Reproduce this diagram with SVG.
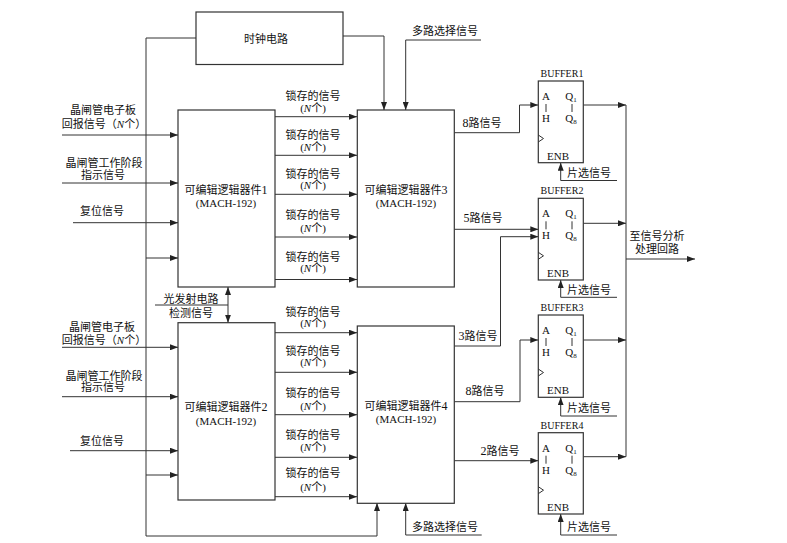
<svg xmlns="http://www.w3.org/2000/svg" width="787" height="543" viewBox="0 0 787 543">
<defs>
<style>
.bg{fill:#fff}
.box{fill:#fff;stroke:#333;stroke-width:1.2}
.ln{fill:none;stroke:#333;stroke-width:1}
.ar{fill:none;stroke:#333;stroke-width:1;marker-end:url(#arr)}
.t{font-family:"Liberation Serif","Noto Sans CJK SC",serif;font-size:11px;fill:#111;text-anchor:middle}
.s{font-family:"Liberation Serif","Noto Sans CJK SC",serif;font-size:10px;fill:#111;text-anchor:middle}
.p{font-family:"Liberation Serif",serif;font-size:11px;fill:#111;text-anchor:middle}
.i{font-style:italic}
</style>
<marker id="arr" viewBox="0 0 8 6" refX="8" refY="3" markerWidth="8" markerHeight="6" orient="auto-start-reverse" markerUnits="userSpaceOnUse"><path d="M0,0 L8,3 L0,6 z" fill="#222"/></marker>
</defs>
<rect class="bg" x="0" y="0" width="787" height="543"/>

<g id="connectors">
<polyline class="ln" points="196,38 146,38 146,536 377,536"/>
<line class="ar" x1="377" y1="536" x2="377" y2="503"/>
<line class="ar" x1="146" y1="258" x2="178" y2="258"/>
<line class="ar" x1="146" y1="475" x2="178" y2="475"/>
<line class="ar" x1="62" y1="135" x2="178" y2="135"/>
<line class="ar" x1="62" y1="183" x2="178" y2="183"/>
<line class="ar" x1="73" y1="222.7" x2="178" y2="222.7"/>
<line class="ar" x1="62" y1="347.3" x2="178" y2="347.3"/>
<line class="ar" x1="62" y1="396.7" x2="178" y2="396.7"/>
<line class="ar" x1="70" y1="450.7" x2="178" y2="450.7"/>
<polyline class="ar" points="343,36 384,36 384,110"/>
<polyline class="ar" points="481,40 405.7,40 405.7,110"/>
<polyline class="ar" points="481.7,535 405.7,535 405.7,503"/>
<line class="ar" x1="275" y1="116.7" x2="357" y2="116.7"/>
<line class="ar" x1="275" y1="155.3" x2="357" y2="155.3"/>
<line class="ar" x1="275" y1="194.3" x2="357" y2="194.3"/>
<line class="ar" x1="275" y1="237" x2="357" y2="237"/>
<line class="ar" x1="275" y1="279.5" x2="357" y2="279.5"/>
<line class="ar" x1="275" y1="332.7" x2="357" y2="332.7"/>
<line class="ar" x1="275" y1="372.3" x2="357" y2="372.3"/>
<line class="ar" x1="275" y1="414.7" x2="357" y2="414.7"/>
<line class="ar" x1="275" y1="457.3" x2="357" y2="457.3"/>
<line class="ar" x1="275" y1="496.7" x2="357" y2="496.7"/>
<line class="ar" x1="228" y1="322.7" x2="228" y2="287" style="marker-start:url(#arr)"/>
<line class="ln" x1="155" y1="305" x2="228" y2="305"/>
<polyline class="ar" points="454.3,132.7 519.5,132.7 519.5,105 538.3,105"/>
<line class="ar" x1="454.3" y1="229.3" x2="538.3" y2="229.3"/>
<polyline class="ar" points="454.3,346 500.5,346 500.5,236.7 538.3,236.7"/>
<polyline class="ar" points="454.3,401.7 520,401.7 520,340 538.3,340"/>
<line class="ar" x1="454.3" y1="460.7" x2="538.3" y2="460.7"/>
<line class="ar" x1="583.3" y1="105" x2="626" y2="105"/>
<line class="ar" x1="583.3" y1="223.3" x2="626" y2="223.3"/>
<line class="ar" x1="583.3" y1="340" x2="626" y2="340"/>
<line class="ar" x1="583.3" y1="456.7" x2="626" y2="456.7"/>
<line class="ln" x1="626" y1="105" x2="626" y2="456.7"/>
<line class="ar" x1="626" y1="259" x2="695" y2="259"/>
<polyline class="ar" points="617,180.5 560.7,180.5 560.7,162.7"/>
<polyline class="ar" points="617,297.3 560.7,297.3 560.7,280"/>
<polyline class="ar" points="617,416 560.7,416 560.7,397.3"/>
<polyline class="ar" points="617,535 560.7,535 560.7,514"/>
</g>

<g id="clock">
<rect class="box" x="196" y="12" width="147" height="52.5"/>
<text class="t" x="266" y="43">时钟电路</text>
</g>

<g id="device1">
<rect class="box" x="178" y="110" width="97" height="177"/>
<text class="t" x="226" y="194">可编辑逻辑器件<tspan font-size="12">1</tspan></text>
<text class="t" x="226" y="207">(MACH-192)</text>
</g>
<g id="device2">
<rect class="box" x="178" y="322.7" width="97" height="177.3"/>
<text class="t" x="226" y="410.7">可编辑逻辑器件<tspan font-size="12">2</tspan></text>
<text class="t" x="226" y="425">(MACH-192)</text>
</g>
<g id="device3">
<rect class="box" x="357.3" y="110" width="97" height="177"/>
<text class="t" x="406" y="194">可编辑逻辑器件<tspan font-size="12">3</tspan></text>
<text class="t" x="406" y="207">(MACH-192)</text>
</g>
<g id="device4">
<rect class="box" x="357.3" y="326" width="97" height="177.3"/>
<text class="t" x="406" y="410">可编辑逻辑器件<tspan font-size="12">4</tspan></text>
<text class="t" x="406" y="423.3">(MACH-192)</text>
</g>

<g id="input-labels">
<text class="t" x="103" y="114">晶闸管电子板</text>
<text class="t" x="104" y="128">回报信号（<tspan class="i">N</tspan>个）</text>
<text class="t" x="104" y="167">晶闸管工作阶段</text>
<text class="t" x="103" y="179">指示信号</text>
<text class="t" x="102" y="215">复位信号</text>
<text class="t" x="102" y="330.7">晶闸管电子板</text>
<text class="t" x="104" y="344">回报信号（<tspan class="i">N</tspan>个）</text>
<text class="t" x="104" y="379.7">晶闸管工作阶段</text>
<text class="t" x="103" y="391.3">指示信号</text>
<text class="t" x="102" y="445">复位信号</text>
<text class="t" x="191" y="303">光发射电路</text>
<text class="t" x="191" y="317.3">检测信号</text>
</g>

<g id="latch-labels">
<text class="t" x="313" y="100">锁存的信号</text><text class="t" x="313" y="112">(<tspan class="i">N</tspan>个)</text>
<text class="t" x="313" y="139">锁存的信号</text><text class="t" x="313" y="151">(<tspan class="i">N</tspan>个)</text>
<text class="t" x="313" y="178">锁存的信号</text><text class="t" x="313" y="189">(<tspan class="i">N</tspan>个)</text>
<text class="t" x="313" y="219">锁存的信号</text><text class="t" x="313" y="232">(<tspan class="i">N</tspan>个)</text>
<text class="t" x="313" y="261.3">锁存的信号</text><text class="t" x="313" y="272.3">(<tspan class="i">N</tspan>个)</text>
<text class="t" x="313" y="315.7">锁存的信号</text><text class="t" x="313" y="327.3">(<tspan class="i">N</tspan>个)</text>
<text class="t" x="313" y="354.7">锁存的信号</text><text class="t" x="313" y="366.3">(<tspan class="i">N</tspan>个)</text>
<text class="t" x="313" y="397.3">锁存的信号</text><text class="t" x="313" y="409.7">(<tspan class="i">N</tspan>个)</text>
<text class="t" x="313" y="439">锁存的信号</text><text class="t" x="313" y="451.3">(<tspan class="i">N</tspan>个)</text>
<text class="t" x="313" y="477.3">锁存的信号</text><text class="t" x="313" y="490.7">(<tspan class="i">N</tspan>个)</text>
</g>

<g id="signal-labels">
<text class="t" x="445" y="35">多路选择信号</text>
<text class="t" x="445" y="530.7">多路选择信号</text>
<text class="t" x="482" y="127"><tspan font-size="12">8</tspan>路信号</text>
<text class="t" x="483" y="222"><tspan font-size="12">5</tspan>路信号</text>
<text class="t" x="478" y="340"><tspan font-size="12">3</tspan>路信号</text>
<text class="t" x="485" y="395"><tspan font-size="12">8</tspan>路信号</text>
<text class="t" x="500" y="454.7"><tspan font-size="12">2</tspan>路信号</text>
<text class="t" x="657" y="240">至信号分析</text>
<text class="t" x="657" y="253">处理回路</text>
<text class="t" x="589" y="177.3">片选信号</text>
<text class="t" x="589" y="294">片选信号</text>
<text class="t" x="589" y="412.3">片选信号</text>
<text class="t" x="589" y="531.3">片选信号</text>
</g>

<g id="buffer1">
<text class="s" x="562" y="77">BUFFER1</text>
<rect class="box" x="538.3" y="81" width="45" height="81.7"/>
<text class="p" x="546" y="100">A</text><line class="ln" x1="546" y1="104" x2="546" y2="112"/><text class="p" x="546" y="122">H</text>
<text class="p" x="571" y="100">Q<tspan font-size="7" dy="2">1</tspan></text><line class="ln" x1="572" y1="104" x2="572" y2="112"/><text class="p" x="571" y="122">Q<tspan font-size="7" dy="2">8</tspan></text>
<polyline class="ln" points="538.3,135 543.5,138.5 538.3,142"/>
<text class="p" x="558" y="159.5">ENB</text>
</g>
<g id="buffer2">
<text class="s" x="562" y="194.3">BUFFER2</text>
<rect class="box" x="538.3" y="198.3" width="45" height="81.7"/>
<text class="p" x="546" y="217.3">A</text><line class="ln" x1="546" y1="221.3" x2="546" y2="229.3"/><text class="p" x="546" y="239.3">H</text>
<text class="p" x="571" y="217.3">Q<tspan font-size="7" dy="2">1</tspan></text><line class="ln" x1="572" y1="221.3" x2="572" y2="229.3"/><text class="p" x="571" y="239.3">Q<tspan font-size="7" dy="2">8</tspan></text>
<polyline class="ln" points="538.3,252.3 543.5,255.8 538.3,259.3"/>
<text class="p" x="558" y="276.8">ENB</text>
</g>
<g id="buffer3">
<text class="s" x="562" y="311">BUFFER3</text>
<rect class="box" x="538.3" y="315" width="45" height="82.3"/>
<text class="p" x="546" y="334">A</text><line class="ln" x1="546" y1="338" x2="546" y2="346"/><text class="p" x="546" y="356">H</text>
<text class="p" x="571" y="334">Q<tspan font-size="7" dy="2">1</tspan></text><line class="ln" x1="572" y1="338" x2="572" y2="346"/><text class="p" x="571" y="356">Q<tspan font-size="7" dy="2">8</tspan></text>
<polyline class="ln" points="538.3,369 543.5,372.5 538.3,376"/>
<text class="p" x="558" y="393.8">ENB</text>
</g>
<g id="buffer4">
<text class="s" x="562" y="428.7">BUFFER4</text>
<rect class="box" x="538.3" y="432.7" width="45" height="81.3"/>
<text class="p" x="546" y="451.7">A</text><line class="ln" x1="546" y1="455.7" x2="546" y2="463.7"/><text class="p" x="546" y="473.7">H</text>
<text class="p" x="571" y="451.7">Q<tspan font-size="7" dy="2">1</tspan></text><line class="ln" x1="572" y1="455.7" x2="572" y2="463.7"/><text class="p" x="571" y="473.7">Q<tspan font-size="7" dy="2">8</tspan></text>
<polyline class="ln" points="538.3,486.7 543.5,490.2 538.3,493.7"/>
<text class="p" x="558" y="510.5">ENB</text>
</g>
</svg>
